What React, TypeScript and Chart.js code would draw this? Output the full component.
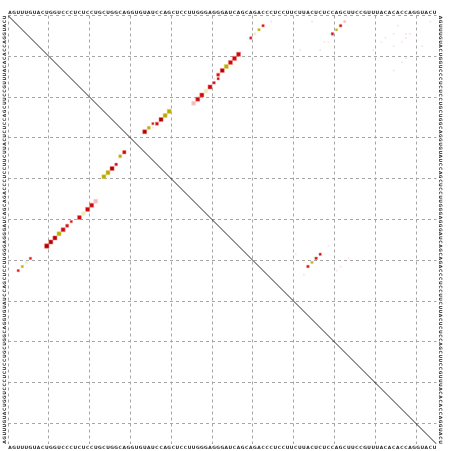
import { useEffect, useRef } from "react";
import { Chart, registerables } from "chart.js";

Chart.register(...registerables);

// RNA sequence shown along all four sides
const SEQUENCE =
  "AGUUUGUACUGGUCCCUCUCCUGCUGGCAGGUGU" +
  "AUCCAGCUCCUUGGGAGGGAUCAGCAGACCCUC" +
  "CUUCUUACUCUCCAGCUUCCGUUUACACACCAGGUACU";
const N = SEQUENCE.length;
const GRID_TICKS = [0, 10, 20, 30, 40, 50, 60, 70, 80, 90, 100];

// Base-pair dots: [column, row, probability]
const darkRedPairs: [number, number, number][] = [
  [52, 13, 0.9], [37, 25, 0.9], [33, 28, 0.9],
  [9, 56, 1.0], [10, 55, 0.9], [11, 54, 0.9], [25, 37, 0.9],
];
const redPairs: [number, number, number][] = [
  [62, 2, 0.4], [59, 5, 0.4], [56, 9, 0.9], [55, 10, 0.9], [54, 11, 0.9],
  [51, 14, 0.6], [51, 15, 0.4], [50, 16, 0.45], [49, 17, 0.9], [47, 19, 0.9],
  [46, 20, 0.9], [36, 26, 0.6], [35, 26, 0.35],
  [2, 62, 0.4], [5, 59, 0.4], [13, 52, 0.9], [14, 51, 0.6], [15, 50, 0.4],
  [17, 49, 0.85], [19, 47, 0.9], [20, 46, 0.9], [26, 36, 0.5], [28, 33, 0.7],
  [81, 2, 0.45], [79, 4, 0.45],
  [73, 61, 0.45], [75, 59, 0.45], [76, 58, 0.4],
];
const olivePairs: [number, number, number][] = [
  [61, 3, 0.4], [53, 12, 0.9], [39, 23, 0.9], [38, 24, 0.9], [34, 27, 0.6],
  [3, 61, 0.4], [12, 53, 0.9], [23, 39, 0.9], [24, 38, 0.9], [27, 34, 0.6],
  [80, 3, 0.35], [74, 60, 0.4],
];
const paleYellowPairs: [number, number, number][] = [
  [60, 4, 0.4], [48, 18, 0.85], [4, 60, 0.4], [18, 48, 0.85],
];
const pinkPairs: [number, number, number][] = [
  [45, 21, 0.85], [21, 45, 0.85], [82, 1, 0.35],
];
const faintPairs: [number, number, number][] = [
  [50, 15, 0.2], [35, 27, 0.2], [64, 1, 0.2], [78, 6, 0.2], [77, 6, 0.2],
  [76, 8, 0.2], [71, 8, 0.2], [74, 1, 0.2], [92, 5, 0.2], [91, 6, 0.2],
  [89, 8, 0.2], [95, 2, 0.2], [97, 4, 0.2], [98, 4, 0.2], [97, 5, 0.2],
  [96, 6, 0.2], [94, 4, 0.2], [94, 7, 0.2], [97, 10, 0.2], [96, 11, 0.2],
  [94, 13, 0.2], [101, 7, 0.2], [103, 1, 0.2],
  [78, 56, 0.2], [70, 58, 0.2], [72, 63, 0.2], [80, 62, 0.2], [81, 61, 0.2],
  [83, 59, 0.2],
];

function sideToRadius(p: number) {
  const side = 1 + 3.4 * p;
  return side * Math.SQRT1_2;
}

function makeDataset(
  pairs: [number, number, number][],
  fill: string,
  halo: string,
  haloWidth: number
) {
  return {
    type: "scatter" as const,
    data: pairs.map(([c, r, p]) => ({ x: c + 0.5, y: r + 0.5, p })),
    backgroundColor: fill,
    borderColor: halo,
    borderWidth: haloWidth,
    pointStyle: "rect" as const,
    pointRadius: pairs.map(([, , p]) => sideToRadius(p)),
    pointHoverRadius: pairs.map(([, , p]) => sideToRadius(p)),
  };
}

const seqPlugin = {
  id: "seqLabels",
  afterDraw(chart: any) {
    const { ctx, chartArea } = chart;
    const xs = chart.scales.x;
    const ys = chart.scales.y;
    ctx.save();
    ctx.font = "bold 4.5px 'DejaVu Sans'";
    ctx.fillStyle = "#222";
    ctx.textAlign = "center";
    ctx.textBaseline = "middle";
    for (let i = 0; i < N; i++) {
      const ch = SEQUENCE[i];
      const cx = xs.getPixelForValue(i + 0.5);
      ctx.fillText(ch, cx, chartArea.top - 3);
      ctx.fillText(ch, cx, chartArea.bottom + 3.5);
      const ly = ys.getPixelForValue(N - 1 - i + 0.5);
      ctx.save();
      ctx.translate(chartArea.left - 3.5, ly);
      ctx.rotate(-Math.PI / 2);
      ctx.fillText(ch, 0, 0);
      ctx.restore();
      const ry = ys.getPixelForValue(i + 0.5);
      ctx.save();
      ctx.translate(chartArea.right + 3.5, ry);
      ctx.rotate(Math.PI / 2);
      ctx.fillText(ch, 0, 0);
      ctx.restore();
    }
    ctx.restore();
  },
};

export default function App() {
  const ref = useRef<HTMLCanvasElement | null>(null);
  useEffect(() => {
    if (!ref.current) return;
    const axisCommon = (reverse: boolean) => ({
      type: "linear" as const,
      min: 0,
      max: N,
      reverse,
      afterBuildTicks: (scale: any) => {
        scale.ticks = GRID_TICKS.map((v) => ({ value: v }));
      },
      ticks: { display: false },
      grid: { color: "#a6a6a6", lineWidth: 1, drawTicks: false },
      border: { display: false, dash: [3, 3] },
    });
    const chart = new Chart(ref.current, {
      type: "scatter",
      data: {
        datasets: [
          {
            type: "line" as const,
            data: [
              { x: 0, y: 0 },
              { x: N, y: N },
            ],
            borderColor: "#111111",
            borderWidth: 0.9,
            pointRadius: 0,
            fill: false,
          } as any,
          makeDataset(faintPairs, "#f8e2e2", "rgba(0,0,0,0)", 0),
          makeDataset(pinkPairs, "#f4bcbc", "rgba(248,210,210,0.6)", 1),
          makeDataset(paleYellowPairs, "#efecbc", "rgba(245,240,210,0.6)", 1),
          makeDataset(olivePairs, "#b9a900", "rgba(222,212,120,0.55)", 1),
          makeDataset(redPairs, "#cc0808", "rgba(238,130,130,0.55)", 1),
          makeDataset(darkRedPairs, "#b40000", "rgba(235,125,125,0.55)", 1),
        ],
      },
      options: {
        animation: false,
        responsive: false,
        devicePixelRatio: 1,
        layout: { padding: { left: 8, top: 15.5, right: 15.5, bottom: 7 } },
        plugins: { legend: { display: false }, tooltip: { enabled: false } },
        scales: {
          x: axisCommon(false),
          y: axisCommon(true),
        },
      },
      plugins: [seqPlugin],
    });
    return () => chart.destroy();
  }, []);
  return (
    <div style={{ position: "absolute", left: 0, top: 0, width: 452, height: 451, background: "#fff" }}>
      <canvas ref={ref} width={452} height={451} style={{ display: "block" }} />
    </div>
  );
}
